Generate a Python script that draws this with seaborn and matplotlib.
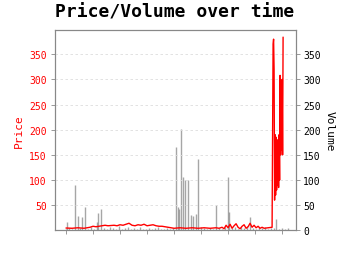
import matplotlib
matplotlib.use("Agg")
import matplotlib.pyplot as plt
import seaborn as sns
import pandas as pd

# ---- data (day offsets) ----
price_day = [0, 6, 12, 18, 24, 27, 30, 36, 39, 42, 48, 51, 54, 57, 60, 63, 66, 69, 72, 75,
             78, 81, 84, 87, 90, 93, 96, 99, 102, 105, 108, 114, 120, 126, 132, 138, 144, 150,
             153, 156, 158, 160, 162, 164, 166, 168, 170, 172, 174, 176, 178, 180, 182, 184,
             186, 188, 190, 192, 194, 196, 198, 202, 206, 207, 207.5, 208, 208.5, 209, 209.5,
             210, 210.5, 211, 211.5, 212, 212.5, 213, 213.5, 214, 214.5, 215, 215.5, 216,
             216.5, 217]
price_val = [4.5, 4, 5, 4, 6, 8, 7, 9, 10, 9, 10, 9, 11, 10, 12, 14, 10, 9, 11, 10,
             12, 9, 10, 11, 9, 8, 8, 7, 6, 5, 4, 5, 4, 5, 4, 5, 4, 5,
             4, 6, 3, 10, 5, 12, 4, 9, 13, 6, 3, 8, 11, 4, 7, 14,
             6, 10, 5, 8, 4, 6, 4, 5, 6, 370, 380, 320, 60, 190, 70,
             185, 80, 180, 90, 175, 85, 190, 100, 308, 150, 190, 160, 300,
             150, 384]

vol_day = [0, 1, 3, 6, 9, 12, 14, 16, 19, 22, 25, 28, 31, 32, 35, 38, 41, 44, 47, 50,
           53, 56, 59, 62, 65, 68, 71, 74, 77, 80, 83, 86, 89, 92, 95, 98, 101, 104, 107,
           110, 112, 113, 115, 117, 119, 122, 125, 127, 130, 132, 135, 138, 141, 144, 147,
           150, 153, 156, 159, 162, 163, 166, 169, 172, 175, 178, 181, 184, 187, 190, 193,
           196, 199, 202, 205, 208, 210, 213, 216, 219, 222]
vol_val = [3, 16, 4, 2, 90, 29, 5, 26, 46, 3, 6, 2, 17, 34, 42, 5, 3, 7, 4, 2,
           8, 3, 5, 6, 2, 4, 3, 7, 2, 3, 5, 2, 4, 6, 3, 2, 5, 3, 4,
           166, 46, 42, 202, 106, 99, 100, 30, 29, 32, 142, 6, 4, 3, 5, 2,
           50, 4, 3, 6, 106, 36, 5, 7, 3, 6, 4, 8, 26, 5, 3, 6,
           4, 7, 3, 5, 4, 22, 3, 5, 2, 4]

x_ticks = [0, 27, 54, 81, 108, 135, 162, 189, 216]
price_ticks = [50, 100, 150, 200, 250, 300, 350]
vol_ticks = [0, 50, 100, 150, 200, 250, 300, 350]

sns.set_style("white")
plt.rcParams['font.family'] = ['DejaVu Sans Mono']
plt.rcParams['text.color'] = 'black'

fig = plt.figure(figsize=(3.5, 2.55), dpi=100)
ax = fig.add_axes([0.158, 0.093, 0.688, 0.787])
ax2 = ax.twinx()

price_df = pd.DataFrame({"day": price_day, "price": price_val})
vol_df = pd.DataFrame({"day": vol_day, "volume": vol_val})

ax2.vlines(vol_df["day"], 0, vol_df["volume"], color="#888888", alpha=0.75, lw=1)
sns.lineplot(data=price_df, x="day", y="price", ax=ax, color="red", lw=1)

ax.set_zorder(ax2.get_zorder() + 1)
ax.patch.set_visible(False)

ylim = (0, 399)
ax.set_ylim(*ylim)
ax2.set_ylim(*ylim)
ax.set_xlim(-10.7, 230)

ax.set_xticks(x_ticks)
ax.set_xticklabels([])
ax.set_yticks(price_ticks)
ax2.set_yticks(vol_ticks)

ax.yaxis.grid(True, color="#dddddd", ls=(0, (3, 3)), lw=0.6)
ax.xaxis.grid(False)

ax.tick_params(axis="y", colors="red", labelsize=7, length=3, width=0.6, pad=3, direction="out")
ax.tick_params(axis="y", color="#888888")
ax.tick_params(axis="x", length=3, width=0.6, color="#888888", direction="out", bottom=True)
ax2.tick_params(axis="y", labelsize=7, length=3, width=0.6, pad=2, color="#888888",
                labelcolor="black", direction="out", right=True)

for a in (ax, ax2):
    for s in a.spines.values():
        s.set_color("#888888")
        s.set_linewidth(0.8)

ax.set_xlabel("")
ax.set_ylabel("Price", color="red", fontsize=8, labelpad=4)
ax2.set_ylabel("Volume", color="black", fontsize=8, rotation=270, labelpad=10)

fig.suptitle("Price/Volume over time", fontsize=13, fontweight="bold", y=0.985, color="black")

fig.savefig("out.png", dpi=100)
